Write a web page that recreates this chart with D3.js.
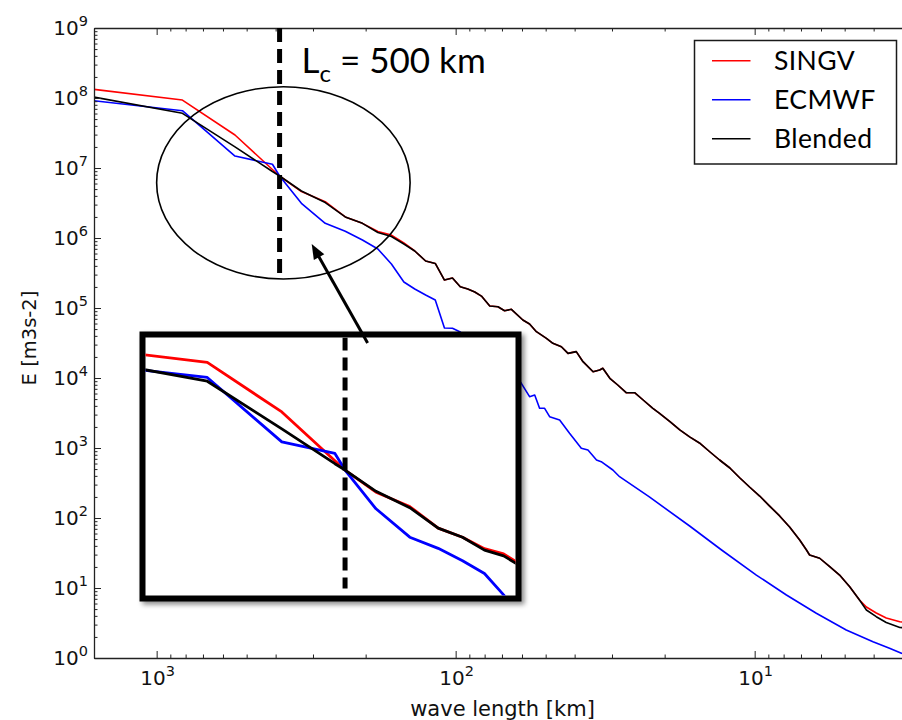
<!DOCTYPE html>
<html>
<head>
<meta charset="utf-8">
<script src="https://cdn.jsdelivr.net/npm/d3@7"></script>
<style>
  html, body { margin: 0; padding: 0; background: #ffffff; }
  svg { display: block; }
</style>
</head>
<body>
<svg id="chart" width="902" height="720"></svg>
<script>
// Kinetic energy spectra against wavelength: SINGV, ECMWF and the blended field.

const seriesNames = ["SINGV", "ECMWF", "Blended"];

// Wavelength [km] and spectral energy E [m3 s-2] for each model
const singvWavelength = [1620, 820, 547, 410, 388, 328, 273, 234, 205, 182, 164, 149, 137, 126, 117, 109, 102.5, 96.5, 91.1, 86.3, 82,
  76.9, 72.2, 68.6, 65.1, 59.6, 56.6, 53.7, 49.7, 47.3, 44.3, 42.1, 39.5, 37.5, 34.7, 33.0, 32.2, 30.5, 28.7, 26.9, 25.2,
  23.6, 21.9, 20.8, 19.2, 17.8, 16.5, 15.3, 14.1, 13.1, 12.1, 11.2, 10.4, 9.62, 8.91, 8.25, 7.64, 7.07, 6.71, 6.55, 6.06,
  5.61, 5.20, 4.81, 4.46, 4.23, 3.92, 3.63, 3.27, 3.0];
const singvEnergy = [1.33e8, 9.35e7, 2.96e7, 9.52e6, 7.69e6, 4.6e6, 3.30e6, 2.00e6, 1.62e6, 1.24e6, 1.10e6, 8.48e5, 6.52e5, 4.69e5, 4.33e5, 2.51e5, 2.68e5, 2.01e5, 1.87e5, 1.69e5, 1.48e5,
  1.07e5, 1.04e5, 9.15e4, 9.58e4, 6.74e4, 5.91e4, 4.59e4, 3.69e4, 3.13e4, 2.80e4, 2.25e4, 2.38e4, 1.71e4, 1.23e4, 1.30e4, 1.38e4, 9.90e3, 7.94e3, 6.17e3, 6.17e3,
  4.85e3, 3.69e3, 3.13e3, 2.38e3, 1.81e3, 1.44e3, 1.18e3, 877, 674, 518, 373, 277, 206, 148, 107, 74.4, 48.5, 34.9, 29.6, 26.6,
  20.2, 15.3, 10.4, 6.74, 5.35, 4.39, 3.73, 3.30, 3.16];

const ecmwfWavelength = [1620, 820, 547, 410, 388, 328, 273, 234, 205, 182, 164, 149, 137, 126, 117, 109, 102.5, 96.5, 89.8, 83.1,
  76.9, 71.2, 66.0, 60.3, 56.6, 54.4, 52.4, 50.4, 48.5, 44.9, 41.6, 38.0, 36.1, 33.8, 32.6, 29.8, 28.3, 22.5, 16.5, 12.9,
  9.87, 7.83, 6.22, 4.94, 4.02, 3.54, 3.23, 3.0];
const ecmwfEnergy = [9.14e7, 6.59e7, 1.48e7, 1.13e7, 7.69e6, 3.13e6, 1.62e6, 1.25e6, 9.36e5, 6.97e5, 4.25e5, 2.35e5, 1.87e5, 1.53e5, 1.30e5, 5.18e4, 5.13e4, 4.54e4, 3.49e4, 2.96e4,
  2.35e4, 1.81e4, 1.39e4, 8.40e3, 5.41e3, 5.72e3, 3.69e3, 3.69e3, 2.80e3, 2.51e3, 1.62e3, 990, 936, 674, 637, 485, 389, 200, 76.9, 34.9,
  15.3, 7.94, 4.35, 2.51, 1.71, 1.38, 1.17, 1.07];

const blendedWavelength = singvWavelength;
const blendedEnergy = [1.03e8, 6.04e7, 2.00e7, 8.91e6, 7.69e6, 4.69e6, 3.21e6, 2.00e6, 1.62e6, 1.20e6, 1.05e6, 8.20e5, 6.52e5, 4.69e5, 4.33e5, 2.51e5, 2.68e5, 2.01e5, 1.87e5, 1.69e5, 1.48e5,
  1.07e5, 1.04e5, 9.15e4, 9.58e4, 6.74e4, 5.91e4, 4.59e4, 3.69e4, 3.13e4, 2.80e4, 2.25e4, 2.38e4, 1.71e4, 1.23e4, 1.30e4, 1.38e4, 9.90e3, 7.94e3, 6.17e3, 6.17e3,
  4.85e3, 3.69e3, 3.13e3, 2.38e3, 1.81e3, 1.44e3, 1.18e3, 877, 674, 518, 373, 277, 206, 148, 107, 74.4, 48.5, 34.9, 29.6, 26.6,
  20.2, 15.3, 10.4, 6.74, 4.85, 3.89, 3.21, 2.73, 2.64];

// Axis ticks
const xMajorTicks = [1000, 100, 10];
const yMajorTicks = [1e0, 1e1, 1e2, 1e3, 1e4, 1e5, 1e6, 1e7, 1e8, 1e9];

// Annotations (data coordinates)
const cutoffKm = 388;
const cutoffText = " = 500 km";
const focusRegion = { kmFrom: 1000, kmTo: 142, eLow: 2.6e5, eHigh: 1.45e8 };
const arrowFrom = [197, 3.16e4];
const arrowTo = [303, 8.2e5];

// ---------------------------------------------------------------------------
const svg = d3.select("#chart");
const plot = { left: 94, right: 911, top: 28, bottom: 658 };
const colors = { SINGV: "#ff0000", ECMWF: "#0000ff", Blended: "#000000" };
const tickFont = "'DejaVu Sans', sans-serif";
const noteFont = "Lato, 'Open Sans', sans-serif";

const x = d3.scaleLog().domain([1620, 3]).range([plot.left, plot.right]);
const y = d3.scaleLog().domain([1, 1e9]).range([plot.bottom, plot.top]);

const series = [
  { name: seriesNames[0], km: singvWavelength, e: singvEnergy },
  { name: seriesNames[1], km: ecmwfWavelength, e: ecmwfEnergy },
  { name: seriesNames[2], km: blendedWavelength, e: blendedEnergy }
];
const points = s => s.km.map((k, i) => [k, s.e[i]]);

const defs = svg.append("defs");
defs.append("clipPath").attr("id", "plot-clip").append("rect")
  .attr("x", plot.left).attr("y", plot.top)
  .attr("width", plot.right - plot.left).attr("height", plot.bottom - plot.top);
const shadow = defs.append("filter").attr("id", "box-shadow")
  .attr("x", "-10%").attr("y", "-10%").attr("width", "130%").attr("height", "130%");
shadow.append("feDropShadow").attr("dx", 3).attr("dy", 3).attr("stdDeviation", 2.5)
  .attr("flood-color", "#000").attr("flood-opacity", 0.45);

// Spectra
const line = d3.line().x(d => x(d[0])).y(d => y(d[1]));
svg.append("g").attr("clip-path", "url(#plot-clip)")
  .selectAll("path").data(series).join("path")
  .attr("d", s => line(points(s)))
  .attr("fill", "none")
  .attr("stroke", s => colors[s.name])
  .attr("stroke-width", 1.6)
  .attr("stroke-linejoin", "round");

// Axes: inward major and minor ticks on all sides
const isDecade = v => Math.abs(Math.log10(v) - Math.round(Math.log10(v))) < 1e-9;
const xMinorTicks = x.ticks().filter(v => !isDecade(v));
const yMinorTicks = y.ticks().filter(v => !isDecade(v));

function addAxis(makeAxis, transform, major, minor) {
  const g = svg.append("g").attr("transform", transform);
  g.append("g").call(makeAxis().tickValues(minor).tickSize(-3.5).tickSizeOuter(0).tickFormat(""))
    .call(a => a.select(".domain").remove());
  g.append("g").call(makeAxis().tickValues(major).tickSize(-7).tickSizeOuter(0).tickFormat(""));
  g.selectAll(".tick line").attr("stroke", "#222").attr("stroke-width", 1);
  g.selectAll(".domain").attr("stroke", "#222").attr("stroke-width", 1.3);
  return g;
}
addAxis(() => d3.axisBottom(x), `translate(0,${plot.bottom})`, xMajorTicks, xMinorTicks);
addAxis(() => d3.axisTop(x), `translate(0,${plot.top})`, xMajorTicks, xMinorTicks);
addAxis(() => d3.axisLeft(y), `translate(${plot.left},0)`, yMajorTicks, yMinorTicks);
addAxis(() => d3.axisRight(y), `translate(${plot.right},0)`, yMajorTicks, yMinorTicks);

function powerLabel(sel, v) {
  sel.append("tspan").text("10");
  sel.append("tspan").attr("dy", -9).attr("font-size", 14.5).text(Math.round(Math.log10(v)));
}
svg.append("g").selectAll("text").data(yMajorTicks).join("text")
  .attr("x", plot.left - 6).attr("y", d => y(d) + 7.3)
  .attr("text-anchor", "end").attr("font-family", tickFont).attr("font-size", 20).attr("fill", "#111")
  .each(function (d) { powerLabel(d3.select(this), d); });
svg.append("g").selectAll("text").data(xMajorTicks).join("text")
  .attr("x", d => x(d) + 1).attr("y", plot.bottom + 27)
  .attr("text-anchor", "middle").attr("font-family", tickFont).attr("font-size", 20).attr("fill", "#111")
  .each(function (d) { powerLabel(d3.select(this), d); });

svg.append("text")
  .attr("x", (plot.left + plot.right) / 2).attr("y", 716)
  .attr("text-anchor", "middle").attr("font-family", tickFont).attr("font-size", 21).attr("fill", "#111")
  .text("wave length [km]");
svg.append("text")
  .attr("transform", `translate(36,${(plot.top + plot.bottom) / 2 - 5}) rotate(-90)`)
  .attr("text-anchor", "middle").attr("font-family", tickFont).attr("font-size", 19.5).attr("fill", "#111")
  .text("E [m3s-2]");

// Region of interest around the cut-off scale
const ex0 = x(focusRegion.kmFrom), ex1 = x(focusRegion.kmTo);
const ey0 = y(focusRegion.eHigh), ey1 = y(focusRegion.eLow);
svg.append("ellipse")
  .attr("cx", (ex0 + ex1) / 2).attr("cy", (ey0 + ey1) / 2)
  .attr("rx", (ex1 - ex0) / 2).attr("ry", (ey1 - ey0) / 2)
  .attr("fill", "none").attr("stroke", "#000").attr("stroke-width", 1.6);

const xc = x(cutoffKm);
svg.append("line")
  .attr("x1", xc).attr("x2", xc).attr("y1", plot.top).attr("y2", ey1)
  .attr("stroke", "#000").attr("stroke-width", 5).attr("stroke-dasharray", "14,7");

const lc = svg.append("text")
  .attr("x", xc + 22).attr("y", 73)
  .attr("font-family", noteFont).attr("font-size", 35).attr("fill", "#000");
lc.append("tspan").text("L");
lc.append("tspan").attr("dy", 8.5).attr("font-size", 24).text("c");
lc.append("tspan").attr("dy", -8.5).text(cutoffText);

// Legend
const legend = svg.append("g").attr("transform", "translate(694.5,40.5)");
legend.append("rect").attr("width", 202).attr("height", 123.5)
  .attr("fill", "#fff").attr("stroke", "#1a1a1a").attr("stroke-width", 1.5);
const rows = legend.selectAll("g").data(seriesNames).join("g")
  .attr("transform", (d, i) => `translate(0,${20.3 + i * 39})`);
rows.append("line").attr("x1", 17.5).attr("x2", 56)
  .attr("stroke", d => colors[d]).attr("stroke-width", 1.6);
rows.append("text").attr("x", 79.5).attr("y", 9.6)
  .attr("font-family", noteFont).attr("font-size", 26.5).attr("letter-spacing", 0.4).attr("fill", "#000")
  .text(d => d);

// Magnified view of the region around the cut-off
const inset = { x: 142.5, y: 334.5, w: 376, h: 264, border: 6, zoom: 1.418, dx: -51.4, dy: 220.5 };
svg.append("rect")
  .attr("x", inset.x).attr("y", inset.y).attr("width", inset.w).attr("height", inset.h)
  .attr("fill", "#fff").attr("stroke", "#000").attr("stroke-width", inset.border)
  .attr("filter", "url(#box-shadow)");
defs.append("clipPath").attr("id", "inset-clip").append("rect")
  .attr("x", inset.x + inset.border / 2).attr("y", inset.y + inset.border / 2)
  .attr("width", inset.w - inset.border).attr("height", inset.h - inset.border);

const xi = x.copy().range(x.range().map(v => v * inset.zoom + inset.dx));
const yi = y.copy().range(y.range().map(v => v * inset.zoom + inset.dy));
const lineInset = d3.line().x(d => xi(d[0])).y(d => yi(d[1]));
const insetG = svg.append("g").attr("clip-path", "url(#inset-clip)");
insetG.selectAll("path").data(series).join("path")
  .attr("d", s => lineInset(points(s)))
  .attr("fill", "none")
  .attr("stroke", s => colors[s.name])
  .attr("stroke-width", 2.8)
  .attr("stroke-linejoin", "round");
const xci = xi(cutoffKm);
insetG.append("line")
  .attr("x1", xci).attr("x2", xci)
  .attr("y1", inset.y + inset.border / 2).attr("y2", inset.y + inset.h - 10)
  .attr("stroke", "#000").attr("stroke-width", 5).attr("stroke-dasharray", "13,7");

// Arrow pointing from the inset to the circled region
const [ax0, ay0] = [x(arrowFrom[0]), y(arrowFrom[1])];
const [ax1, ay1] = [x(arrowTo[0]), y(arrowTo[1])];
const len = Math.hypot(ax1 - ax0, ay1 - ay0);
const ux = (ax1 - ax0) / len, uy = (ay1 - ay0) / len;
const headLen = 15, headHalf = 6;
svg.append("line")
  .attr("x1", ax0).attr("y1", ay0)
  .attr("x2", ax1 - ux * headLen * 0.8).attr("y2", ay1 - uy * headLen * 0.8)
  .attr("stroke", "#000").attr("stroke-width", 3);
const bx = ax1 - ux * headLen, by = ay1 - uy * headLen;
svg.append("path")
  .attr("d", `M${ax1},${ay1}L${bx - uy * headHalf},${by + ux * headHalf}L${bx + uy * headHalf},${by - ux * headHalf}Z`)
  .attr("fill", "#000");
</script>
</body>
</html>
